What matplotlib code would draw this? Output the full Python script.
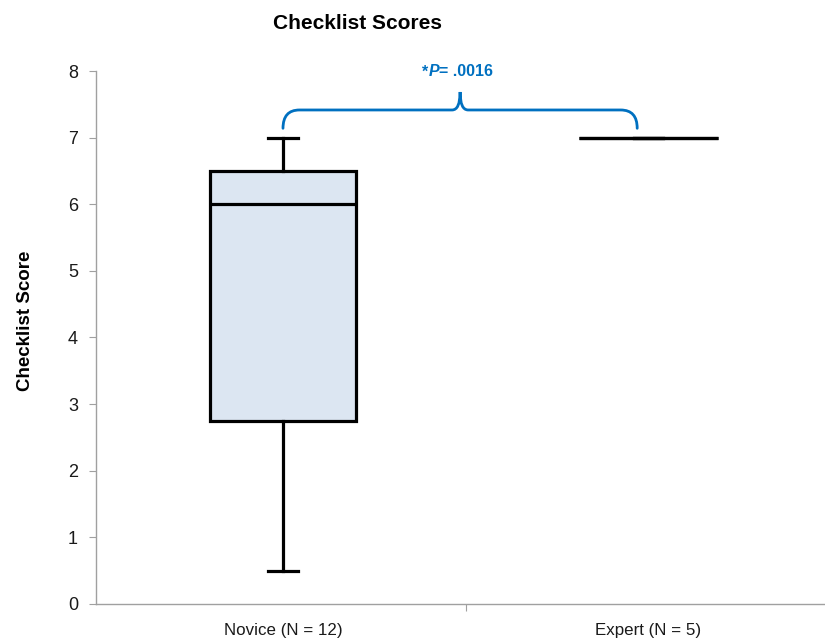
import matplotlib
matplotlib.use("Agg")
import matplotlib.pyplot as plt
from matplotlib.path import Path
from matplotlib.patches import PathPatch
from matplotlib import font_manager

# Summary statistics for each group
groups = ["Novice (N = 12)", "Expert (N = 5)"]
whisker_low = [0.5, 7.0]
q1 = [2.75, 7.0]
median = [6.0, 7.0]
q3 = [6.5, 7.0]
whisker_high = [7.0, 7.0]
p_label = ".0016"

yticks = [0, 1, 2, 3, 4, 5, 6, 7, 8]

names = {f.name for f in font_manager.fontManager.ttflist}
narrow = "Liberation Sans Narrow" if "Liberation Sans Narrow" in names else "Liberation Sans"
label_size = 13.3 if narrow == "Liberation Sans Narrow" else 12.2
plt.rcParams["font.family"] = ["Liberation Sans", "DejaVu Sans"]

BLUE = "#0070C0"

fig = plt.figure(figsize=(8.25, 6.42), dpi=100)
ax = fig.add_axes([0.1164, 0.0592, 0.8994, 0.8302])

stats = []
for i, g in enumerate(groups):
    stats.append(dict(label=g, whislo=whisker_low[i], q1=q1[i], med=median[i],
                      q3=q3[i], whishi=whisker_high[i], fliers=[]))

positions = [1, 2]
ax.bxp(stats, positions=positions, widths=[0.40, 0.38], capwidths=[0.08, 0.08],
       patch_artist=True, showfliers=False,
       boxprops=dict(facecolor="#dce6f2", edgecolor="black", linewidth=2.3),
       medianprops=dict(color="black", linewidth=2.3),
       whiskerprops=dict(color="black", linewidth=2.3),
       capprops=dict(color="black", linewidth=2.3),
       manage_ticks=False)

ax.set_xlim(0.488, 2.52)
ax.set_ylim(0, 8)
ax.set_yticks(yticks)
ax.set_yticklabels([str(t) for t in yticks], fontsize=13, color="#1a1a1a")

# x axis: one divider tick between groups, labels under each group
ax.set_xticks([1.5])
ax.set_xticklabels([""])
ax.set_xticks(positions, minor=True)
ax.set_xticklabels(groups, minor=True, fontsize=label_size, family=narrow, color="#1a1a1a")
ax.tick_params(axis="x", which="minor", length=0, pad=14)
ax.tick_params(axis="x", which="major", length=5, width=0.8, color="#a0a0a0", direction="out")
ax.tick_params(axis="y", length=5, width=0.8, color="#a0a0a0", direction="out", pad=8)

for s in ["top", "right"]:
    ax.spines[s].set_visible(False)
for s in ["left", "bottom"]:
    ax.spines[s].set_color("#a0a0a0")
    ax.spines[s].set_linewidth(1.0)

# Significance brace between the two groups
x0, x1 = 1.0, 1.97
xm = 1.485
y_end, y_bar, y_tip = 7.14, 7.415, 7.685
dx, dm = 0.045, 0.022
verts = [
    (x0, y_end), (x0, y_bar), (x0 + dx, y_bar),
    (xm - dm, y_bar),
    (xm, y_bar), (xm, y_tip),
    (xm, y_bar), (xm + dm, y_bar),
    (x1 - dx, y_bar),
    (x1, y_bar), (x1, y_end),
]
codes = [Path.MOVETO, Path.CURVE3, Path.CURVE3,
         Path.LINETO,
         Path.CURVE3, Path.CURVE3,
         Path.CURVE3, Path.CURVE3,
         Path.LINETO,
         Path.CURVE3, Path.CURVE3]
ax.add_patch(PathPatch(Path(verts, codes), facecolor="none", edgecolor=BLUE,
                       linewidth=2.0, clip_on=False, capstyle="round"))

# "*P = .0016" with an italic P
t1 = ax.text(1.381, 7.92, "*", fontsize=11.5, fontweight="bold", color=BLUE,
             ha="left", va="baseline", clip_on=False)
t2 = ax.annotate("P", xy=(1, 0), xycoords=t1, fontsize=11.5, fontweight="bold",
                 fontstyle="italic", color=BLUE, ha="left", va="bottom")
ax.annotate("= " + p_label, xy=(1, 0), xycoords=t2, fontsize=11.5, fontweight="bold",
            color=BLUE, ha="left", va="bottom")

fig.text(0.433, 0.963, "Checklist Scores", fontsize=15, fontweight="bold",
         ha="center", va="center", color="black")
fig.text(0.031, 0.50, "Checklist Score", fontsize=13.5, fontweight="bold",
         rotation=90, ha="center", va="center", color="black")

fig.savefig("out.png", dpi=100)
